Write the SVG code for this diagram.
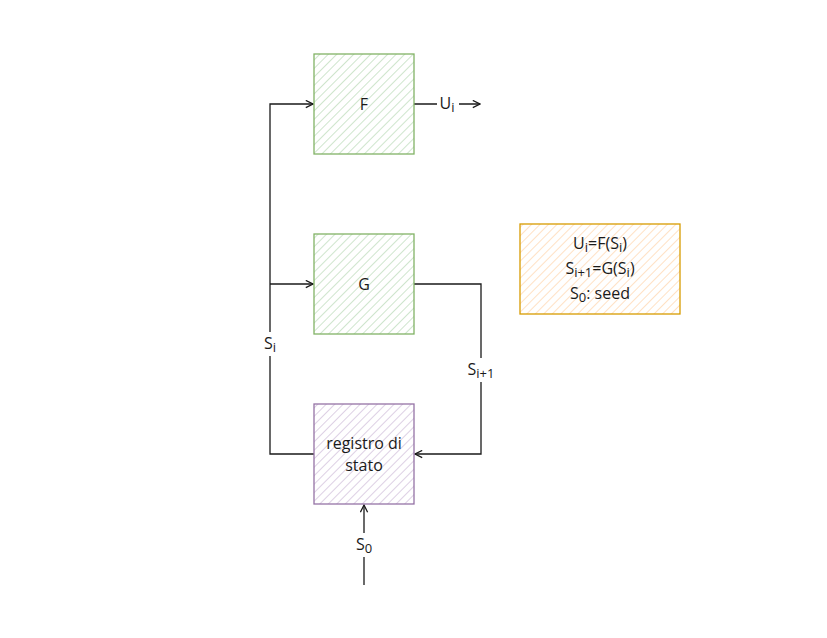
<svg xmlns="http://www.w3.org/2000/svg" width="827" height="638" viewBox="0 0 827 638">
<style>
text{font-family:"Open Sans","Noto Sans",sans-serif;font-size:16px;fill:#1a1a1a;text-anchor:middle}
.sub{font-size:13px}
.ln{fill:none;stroke:#1a1a1a;stroke-width:1.3}
.bg{fill:#fff}
</style>
<defs>
<pattern id="hg" patternUnits="userSpaceOnUse" width="6" height="6" patternTransform="rotate(45)">
<line x1="0" y1="0" x2="0" y2="6" stroke="#cfe5cd" stroke-width="2"/>
</pattern>
<pattern id="hp" patternUnits="userSpaceOnUse" width="6" height="6" patternTransform="rotate(45)">
<line x1="0" y1="0" x2="0" y2="6" stroke="#ddd0e4" stroke-width="2"/>
</pattern>
<pattern id="ho" patternUnits="userSpaceOnUse" width="6" height="6" patternTransform="rotate(45)">
<line x1="0" y1="0" x2="0" y2="6" stroke="#ffe1c4" stroke-width="2"/>
</pattern>
<marker id="ar" viewBox="0 0 10 10" refX="9" refY="5" markerWidth="9" markerHeight="9" markerUnits="userSpaceOnUse" orient="auto">
<polyline points="1,1 9,5 1,9" fill="none" stroke="#1a1a1a" stroke-width="1.4"/>
</marker>
</defs>
<g id="connectors">
<path class="ln" d="M314,454 H270 V104 H313" marker-end="url(#ar)"/>
<path class="ln" d="M270,284 H313" marker-end="url(#ar)"/>
<path class="ln" d="M414,284 H481 V454 H415" marker-end="url(#ar)"/>
<path class="ln" d="M414,104 H480" marker-end="url(#ar)"/>
<path class="ln" d="M364,585 V505" marker-end="url(#ar)"/>
<rect class="bg" x="260" y="332" width="22" height="24"/>
<text x="270" y="349">S<tspan class="sub" dy="3">i</tspan></text>
<rect class="bg" x="464" y="358" width="36" height="24"/>
<text x="481" y="375">S<tspan class="sub" dy="3">i+1</tspan></text>
<rect class="bg" x="437" y="92" width="22" height="24"/>
<text x="447" y="109">U<tspan class="sub" dy="3">i</tspan></text>
<rect class="bg" x="352" y="533" width="26" height="24"/>
<text x="364" y="550">S<tspan class="sub" dy="3">0</tspan></text>
</g>
<g id="F">
<rect x="314" y="54" width="100" height="100" fill="url(#hg)" stroke="#82b366" stroke-width="1.3"/>
<text x="364" y="110">F</text>
</g>
<g id="G">
<rect x="314" y="234" width="100" height="100" fill="url(#hg)" stroke="#82b366" stroke-width="1.3"/>
<text x="364" y="290">G</text>
</g>
<g id="registro">
<rect x="314" y="404" width="100" height="100" fill="url(#hp)" stroke="#9673a6" stroke-width="1.3"/>
<text x="364" y="449">registro di</text>
<text x="364" y="471">stato</text>
</g>
<g id="note">
<rect x="520" y="224" width="160" height="90" fill="url(#ho)" stroke="#d79b00" stroke-width="1.3"/>
<text x="600" y="249">U<tspan class="sub" dy="3">i</tspan><tspan dy="-3">=F(S</tspan><tspan class="sub" dy="3">i</tspan><tspan dy="-3">)</tspan></text>
<text x="600" y="274">S<tspan class="sub" dy="3">i+1</tspan><tspan dy="-3">=G(S</tspan><tspan class="sub" dy="3">i</tspan><tspan dy="-3">)</tspan></text>
<text x="600" y="299">S<tspan class="sub" dy="3">0</tspan><tspan dy="-3">: seed</tspan></text>
</g>
</svg>
